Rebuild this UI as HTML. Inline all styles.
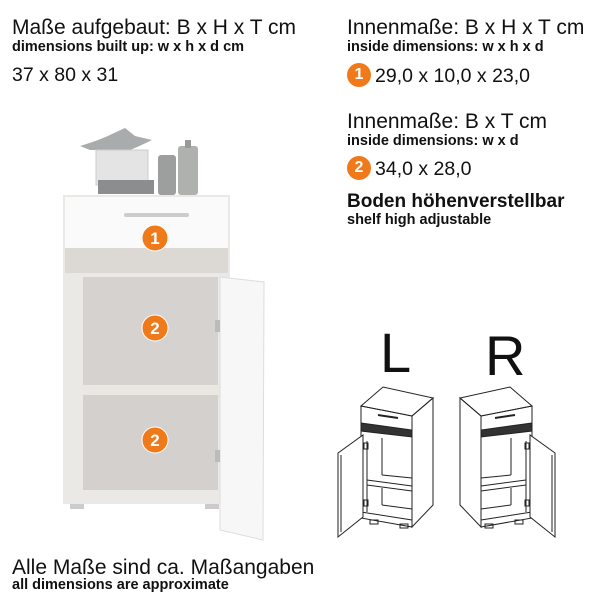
<!DOCTYPE html>
<html><head><meta charset="utf-8"><style>
body{margin:0;width:600px;height:600px;background:#fff;position:relative;font-family:"Liberation Sans",sans-serif;color:#111;overflow:hidden}
.t{position:absolute;white-space:nowrap;line-height:1}
.h{font-size:21px}
.s{font-size:14.5px;font-weight:bold}
.n{font-size:19.5px}
.c{display:inline-block;width:24px;height:24px;border-radius:50%;background:#f07a1a;color:#fff;text-align:center;line-height:24px;font-size:16px;font-weight:bold;vertical-align:middle;margin-right:4px;position:relative;top:-2px}
</style></head><body>
<div class="t h" style="left:12px;top:17px">Maße aufgebaut: B x H x T cm</div>
<div class="t s" style="left:12px;top:40px">dimensions built up: w x h x d cm</div>
<div class="t n" style="left:12px;top:66px">37 x 80 x 31</div>

<div class="t h" style="left:347px;top:17px">Innenmaße: B x H x T cm</div>
<div class="t s" style="left:347px;top:40px">inside dimensions: w x h x d</div>
<div class="t n" style="left:347px;top:65px"><span class="c">1</span>29,0 x 10,0 x 23,0</div>
<div class="t h" style="left:347px;top:111px">Innenmaße: B x T cm</div>
<div class="t s" style="left:347px;top:134px">inside dimensions: w x d</div>
<div class="t n" style="left:347px;top:158px"><span class="c">2</span>34,0 x 28,0</div>
<div class="t" style="left:347px;top:192px;font-size:19px;font-weight:bold">Boden höhenverstellbar</div>
<div class="t s" style="left:347px;top:213px">shelf high adjustable</div>

<div class="t h" style="left:12px;top:557px">Alle Maße sind ca. Maßangaben</div>
<div class="t s" style="left:12px;top:578px">all dimensions are approximate</div>

<svg width="600" height="600" style="position:absolute;left:0;top:0">
<path d="M80,146 Q100,140 112,134 L125,128 L135,136 L152,140 Q140,146 130,150 L90,150 Z" fill="#a9acac"/>
<rect x="96" y="150" width="52" height="35" fill="#e4e4e4" stroke="#ccc"/>
<rect x="98" y="180" width="56" height="14" fill="#8b8d8e"/>
<rect x="158" y="155" width="18" height="40" rx="3" fill="#9c9f9e"/>
<rect x="178" y="146" width="20" height="49" rx="3" fill="#aeb1ae"/>
<rect x="185" y="140" width="6" height="8" fill="#999"/>
<rect x="63" y="195" width="167" height="300" fill="#ebe9e6"/>
<rect x="65" y="197" width="163" height="51" fill="#fafafa"/>
<rect x="124" y="213" width="65" height="4" rx="2" fill="#ccc"/>
<rect x="65" y="248" width="163" height="25" fill="#dcd8d3"/>
<rect x="83" y="277" width="135" height="108" fill="#d5d2cf"/>
<rect x="83" y="385" width="135" height="10" fill="#ebe8e4"/>
<rect x="83" y="395" width="135" height="95" fill="#d3d0cd"/>
<rect x="63" y="492" width="167" height="12" fill="#ebe9e6"/>
<rect x="70" y="504" width="14" height="5" fill="#ccc"/>
<rect x="205" y="504" width="14" height="5" fill="#ccc"/>
<polygon points="220,277 264,282 263,540 220,530" fill="#f7f7f7" stroke="#ddd"/>
<rect x="215" y="320" width="5" height="12" fill="#bbb"/>
<rect x="215" y="450" width="5" height="12" fill="#bbb"/>
<g fill="#f07a1a" stroke="#fff" stroke-width="1"><circle cx="155" cy="238" r="13"/><circle cx="155" cy="328" r="13"/><circle cx="155" cy="440" r="13"/></g>
<g fill="#fff" font-size="17" font-weight="bold" text-anchor="middle" font-family="Liberation Sans,sans-serif"><text x="155" y="244">1</text><text x="155" y="334">2</text><text x="155" y="446">2</text></g>

<text x="380" y="372" font-size="56" font-family="Liberation Sans,sans-serif" fill="#111">L</text>
<text x="485" y="375" font-size="56" font-family="Liberation Sans,sans-serif" fill="#111">R</text>

<g id="cab" fill="none" stroke="#222" stroke-width="1">
<polygon points="361,406 383,387 433,398 412,416" fill="#fff"/>
<polygon points="361,406 412,416 412,527 361,518"/>
<polygon points="412,416 433,398 433,505 412,527"/>
<polygon points="361,423 412,430 412,437 361,431" fill="#333"/>
<line x1="378" y1="415" x2="398" y2="418" stroke-width="2"/>
<line x1="367" y1="441" x2="367" y2="512"/>
<line x1="367" y1="480" x2="412" y2="486"/>
<line x1="367" y1="485" x2="412" y2="491"/>
<line x1="382" y1="438" x2="382" y2="475"/>
<line x1="382" y1="475" x2="412" y2="478"/>
<line x1="382" y1="488" x2="382" y2="505"/>
<line x1="382" y1="505" x2="412" y2="509"/>
<line x1="361" y1="512" x2="412" y2="520"/>
<polygon points="338,453 363,435 363,517 338,537" fill="#fff"/>
<line x1="341" y1="455" x2="341" y2="532"/>
<rect x="364" y="443" width="4" height="6"/>
<rect x="364" y="500" width="4" height="6"/>
<rect x="370" y="520" width="8" height="4"/>
<rect x="400" y="524" width="8" height="4"/>
</g>
<use href="#cab" transform="translate(893,0) scale(-1,1)"/>
</svg>
</body></html>
